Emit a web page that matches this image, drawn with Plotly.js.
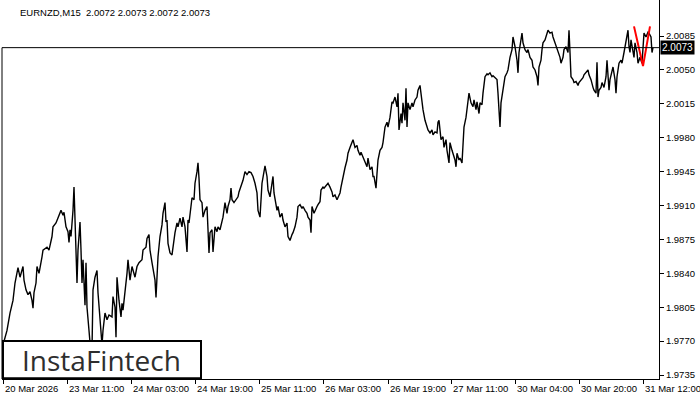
<!DOCTYPE html>
<html>
<head>
<meta charset="utf-8">
<script src="https://cdn.plot.ly/plotly-3.0.1.min.js"></script>
<style>html,body{margin:0;padding:0;background:#fff;}#chart{width:700px;height:400px;}</style>
</head>
<body>
<div id="chart"></div>
<script>
// Bar index (one M15 bar per index) and close prices
const barIndex = [3,5,7,10,13,15,17,18,20,23,24,26,28,30,32,33,34,36,37,39,42,43,47,49,52,53,56,58,61,63,64,66,68,69,70,71,73,74,75,76,77,78,79,80,81,82,83,85,86,87,89,90,91,92,93,95,97,98,99,101,102,103,105,107,109,112,113,115,116,117,118,119,121,122,123,125,127,128,130,132,133,135,137,139,142,143,146,147,149,150,152,153,155,156,157,158,160,162,163,165,166,167,168,170,172,173,175,177,178,180,182,183,185,187,188,189,191,192,194,195,197,198,199,200,202,203,205,207,208,209,210,212,213,215,217,218,220,222,223,225,227,228,230,231,232,234,236,238,239,241,243,245,247,249,251,253,255,257,258,260,261,262,264,265,267,268,270,272,273,274,276,277,278,280,282,283,285,287,288,290,292,293,295,297,298,300,302,303,305,307,308,310,311,312,314,315,317,318,320,321,323,324,326,328,330,332,333,335,337,338,340,341,343,345,347,348,350,352,353,355,357,358,360,361,363,365,367,368,370,372,373,374,376,377,378,380,382,383,385,387,388,390,392,393,395,397,398,399,401,402,403,405,406,407,408,410,412,413,415,417,418,420,422,423,425,427,428,430,432,433,435,437,438,439,441,443,444,446,447,449,450,452,453,455,456,457,459,460,462,463,464,466,467,468,469,471,473,474,476,477,479,480,482,483,485,487,488,490,492,493,495,497,498,499,500,501,502,503,505,507,508,510,512,513,515,517,518,519,521,522,523,525,527,528,530,532,533,535,537,538,539,541,542,543,545,547,548,550,552,553,555,557,558,560,561,563,564,566,568,569,570,571,573,574,576,578,579,581,583,584,586,588,589,591,593,594,596,597,598,599,601,602,604,606,607,608,609,610,612,613,615,616,617,619,621,622,624,625,627,628,629,630,631,632,634,635,637,638,640,642,643,644,646,648,649,651,652,653];
const closePrice = [1.9766,1.9774,1.9781,1.9799,1.9812,1.9830,1.9840,1.9846,1.9836,1.9847,1.9833,1.9823,1.9818,1.9821,1.9812,1.9804,1.9820,1.9830,1.9847,1.9840,1.9857,1.9864,1.9867,1.9864,1.9878,1.9888,1.9892,1.9898,1.9905,1.9900,1.9903,1.9888,1.9883,1.9872,1.9885,1.9878,1.9905,1.9929,1.9902,1.9871,1.9830,1.9864,1.9882,1.9893,1.9864,1.9830,1.9854,1.9807,1.9851,1.9805,1.9781,1.9766,1.9756,1.9761,1.9823,1.9836,1.9843,1.9820,1.9805,1.9778,1.9766,1.9781,1.9799,1.9792,1.9797,1.9795,1.9816,1.9805,1.9774,1.9836,1.9823,1.9812,1.9795,1.9809,1.9802,1.9820,1.9840,1.9854,1.9833,1.9847,1.9843,1.9836,1.9847,1.9851,1.9854,1.9864,1.9867,1.9876,1.9880,1.9864,1.9851,1.9843,1.9833,1.9815,1.9843,1.9857,1.9878,1.9890,1.9902,1.9913,1.9893,1.9895,1.9871,1.9861,1.9859,1.9867,1.9882,1.9892,1.9888,1.9897,1.9888,1.9898,1.9888,1.9862,1.9895,1.9892,1.9913,1.9918,1.9916,1.9933,1.9945,1.9954,1.9938,1.9916,1.9913,1.9898,1.9905,1.9909,1.9885,1.9861,1.9882,1.9885,1.9862,1.9888,1.9883,1.9888,1.9885,1.9892,1.9898,1.9913,1.9902,1.9909,1.9916,1.9928,1.9916,1.9913,1.9916,1.9919,1.9924,1.9929,1.9936,1.9945,1.9942,1.9945,1.9944,1.9940,1.9933,1.9923,1.9905,1.9898,1.9916,1.9933,1.9945,1.9951,1.9940,1.9926,1.9919,1.9933,1.9940,1.9923,1.9913,1.9905,1.9909,1.9898,1.9902,1.9895,1.9888,1.9892,1.9878,1.9874,1.9880,1.9882,1.9888,1.9898,1.9909,1.9911,1.9907,1.9909,1.9905,1.9902,1.9898,1.9895,1.9882,1.9909,1.9902,1.9905,1.9909,1.9911,1.9914,1.9926,1.9929,1.9928,1.9931,1.9933,1.9929,1.9924,1.9919,1.9921,1.9916,1.9919,1.9923,1.9929,1.9940,1.9949,1.9957,1.9964,1.9970,1.9976,1.9978,1.9970,1.9972,1.9967,1.9962,1.9965,1.9960,1.9957,1.9950,1.9959,1.9947,1.9950,1.9940,1.9940,1.9928,1.9943,1.9957,1.9967,1.9970,1.9975,1.9991,1.9996,1.9991,2.0001,2.0017,2.0016,2.0022,2.0012,2.0026,1.9988,2.0005,1.9995,2.0016,1.9998,2.0031,1.9991,2.0016,2.0009,2.0016,2.0012,2.0019,2.0022,2.0029,2.0034,2.0016,2.0009,1.9998,1.9991,1.9988,1.9985,1.9988,1.9983,1.9986,1.9985,1.9996,1.9998,1.9978,1.9981,1.9970,1.9978,1.9967,1.9954,1.9975,1.9967,1.9964,1.9957,1.9950,1.9964,1.9957,1.9959,1.9954,1.9970,1.9991,2.0001,2.0009,2.0019,2.0026,2.0016,2.0012,2.0019,2.0009,2.0017,2.0005,2.0016,2.0014,2.0026,2.0043,2.0046,2.0045,2.0047,2.0043,2.0044,2.0042,2.0040,2.0026,2.0001,1.9991,2.0016,2.0022,2.0032,2.0043,2.0047,2.0050,2.0063,2.0071,2.0084,2.0074,2.0060,2.0047,2.0068,2.0081,2.0088,2.0078,2.0071,2.0068,2.0071,2.0063,2.0060,2.0053,2.0050,2.0043,2.0034,2.0053,2.0060,2.0071,2.0078,2.0081,2.0088,2.0091,2.0088,2.0089,2.0084,2.0078,2.0073,2.0068,2.0063,2.0057,2.0063,2.0071,2.0074,2.0068,2.0091,2.0068,2.0043,2.0040,2.0037,2.0038,2.0034,2.0037,2.0040,2.0042,2.0045,2.0047,2.0050,2.0045,2.0040,2.0032,2.0029,2.0026,2.0058,2.0022,2.0029,2.0032,2.0037,2.0032,2.0043,2.0060,2.0037,2.0029,2.0040,2.0047,2.0053,2.0040,2.0026,2.0043,2.0057,2.0060,2.0057,2.0068,2.0074,2.0088,2.0091,2.0074,2.0068,2.0081,2.0074,2.0063,2.0078,2.0068,2.0057,2.0063,2.0057,2.0071,2.0088,2.0084,2.0089,2.0088,2.0084,2.0068,2.0073];

// Red pattern marker
const patternIndex = [634, 643, 650];
const patternPrice = [2.0095, 2.0054, 2.0095];

// Axis ticks
const xTickIndex = [3, 67, 131, 195, 259, 323, 388, 451, 515, 579, 643];
const xTickText = ["20 Mar 2026","23 Mar 11:00","24 Mar 03:00","24 Mar 19:00","25 Mar 11:00","26 Mar 03:00","26 Mar 19:00","27 Mar 11:00","30 Mar 04:00","30 Mar 20:00","31 Mar 12:00"];
const yTickVals = [1.9735,1.9770,1.9805,1.9840,1.9875,1.9910,1.9945,1.9980,2.0015,2.0050,2.0085];
const yTickText = ["1.9735","1.9770","1.9805","1.9840","1.9875","1.9910","1.9945","1.9980","2.0015","2.0050","2.0085"];

const symbolTitle = "EURNZD,M15  2.0072 2.0073 2.0072 2.0073";
const lastPrice = 2.0073;
const lastPriceText = "2.0073";
const logoText = "InstaFintech";

const FONT = "Liberation Sans, Arial, sans-serif";
const Y_MIN = 1.97309, Y_MAX = 2.01222;

const traces = [
  {x: barIndex, y: closePrice, type: "scatter", mode: "lines",
   line: {color: "#000", width: 1.4}, hoverinfo: "skip"},
  {x: patternIndex, y: patternPrice, type: "scatter", mode: "lines",
   line: {color: "#ff0000", width: 2}, hoverinfo: "skip"}
];

const annotations = [
  {xref: "paper", yref: "paper", x: 0.0244, y: 0.968, xanchor: "left", yanchor: "middle",
   text: symbolTitle, showarrow: false, font: {family: FONT, size: 9.5, color: "#000"}},
  {xref: "paper", yref: "y", x: 1, y: lastPrice, xanchor: "left", yanchor: "middle", xshift: 1,
   text: lastPriceText, showarrow: false, bgcolor: "#000", borderpad: 1,
   font: {family: FONT, size: 10, color: "#fff"}},
  {xref: "paper", yref: "paper", x: 0.1522, y: 0.05, xanchor: "center", yanchor: "middle",
   text: logoText, showarrow: false, font: {family: "Open Sans, sans-serif", size: 28, color: "#2e2e2e"}}
];
xTickIndex.forEach((v, i) => annotations.push({
  xref: "x", yref: "paper", x: v, y: 0, xanchor: "left", yanchor: "top", yshift: -2, xshift: 0,
  text: xTickText[i], showarrow: false, font: {family: FONT, size: 9.5, color: "#000"}
}));

const layout = {
  width: 700, height: 400, autosize: false,
  margin: {l: 2, r: 41, t: 0, b: 21, pad: 0},
  paper_bgcolor: "#fff", plot_bgcolor: "#fff",
  showlegend: false,
  xaxis: {range: [2, 659], showgrid: false, zeroline: false, showline: true, linecolor: "#000", linewidth: 1,
          ticks: "outside", ticklen: 4, tickcolor: "#000", tickvals: xTickIndex, showticklabels: false, fixedrange: true},
  yaxis: {side: "right", range: [Y_MIN, Y_MAX], showgrid: false, zeroline: false, showline: true,
          linecolor: "#000", linewidth: 1, ticks: "outside", ticklen: 4, tickcolor: "#000",
          tickvals: yTickVals, ticktext: yTickText, tickfont: {family: FONT, size: 9.5, color: "#000"}, fixedrange: true},
  shapes: [
    {type: "line", xref: "paper", yref: "y", x0: 0, x1: 0, y0: Y_MIN, y1: lastPrice, line: {color: "#000", width: 1}, layer: "above"},
    {type: "line", xref: "paper", yref: "y", x0: 0, x1: 1, y0: lastPrice, y1: lastPrice, line: {color: "#000", width: 1}, layer: "above"},
    {type: "rect", xref: "paper", yref: "paper", x0: 0.0015, x1: 0.3029, y0: 0.002, y1: 0.1003,
     fillcolor: "#fff", line: {color: "#000", width: 2}, layer: "above"}
  ],
  annotations: annotations
};

Plotly.newPlot("chart", traces, layout, {staticPlot: true, displayModeBar: false});
</script>
</body>
</html>
